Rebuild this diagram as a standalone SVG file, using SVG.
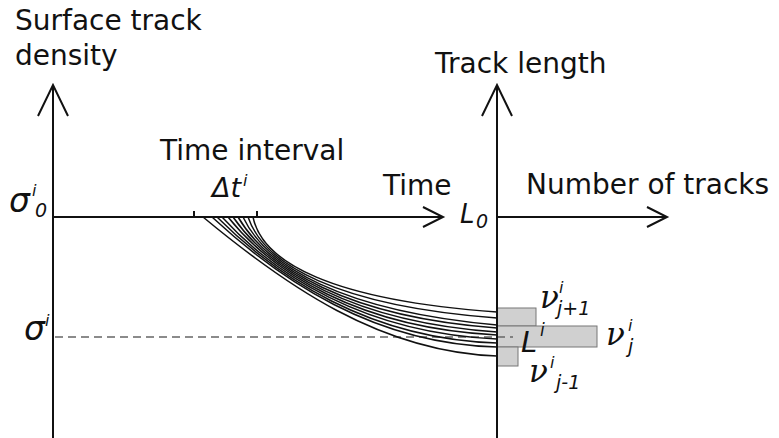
<svg xmlns="http://www.w3.org/2000/svg" width="779" height="438" viewBox="0 0 779 438">
<style>
.ax{stroke:#111;stroke-width:2;fill:none}
.ah{stroke:#111;stroke-width:2;fill:none;stroke-linejoin:miter}
.cv{stroke:#111;stroke-width:1.5;fill:none}
.t{font-family:"DejaVu Sans",sans-serif;font-size:28px;fill:#111}
.it{font-family:"DejaVu Sans",sans-serif;font-style:italic;fill:#111}
.nu{font-family:"DejaVu Serif",serif;font-style:italic;font-size:31px;fill:#111}
.bar{fill:#d0d0d0;stroke:#777;stroke-width:1}
</style>
<rect width="779" height="438" fill="#fff"/>
<g id="bars">
<rect class="bar" x="497" y="308" width="39" height="18"/>
<rect class="bar" x="497" y="326" width="100" height="21" stroke="#555"/>
<rect class="bar" x="497" y="347" width="21" height="19"/>
</g>
<g id="dashed">
<line x1="55" y1="337" x2="513" y2="337" stroke="#666" stroke-width="1.5" stroke-dasharray="8,5"/>
</g>
<g id="connectors">
<path class="cv" d="M203,217 C285,285 380,352 497,356"/>
<path class="cv" d="M212,217 C280,280 374,344 497,347"/>
<path class="cv" d="M217,217 C277,277 369,339 497,343"/>
<path class="cv" d="M222,217 C274,274 363,333 497,339"/>
<path class="cv" d="M228,217 C272,272 358,328 497,335"/>
<path class="cv" d="M233,217 C270,270 352,322 497,332"/>
<path class="cv" d="M238,217 C268,268 347,317 497,328"/>
<path class="cv" d="M243,217 C266,266 341,311 497,325"/>
<path class="cv" d="M248,217 C264,264 336,306 497,318"/>
<path class="cv" d="M253,217 C262,262 330,300 497,312"/>
</g>
<g id="axis-density">
<line class="ax" x1="53" y1="85" x2="53" y2="438"/>
<polyline class="ah" points="38,116 53,85 68,116"/>
</g>
<g id="axis-time">
<line class="ax" x1="53" y1="217" x2="442" y2="217"/>
<polyline class="ah" points="423,207 443,217 423,227"/>
<line class="ax" x1="194" y1="211" x2="194" y2="217" stroke-width="1.5"/>
<line class="ax" x1="257" y1="211" x2="257" y2="217" stroke-width="1.5"/>
</g>
<g id="axis-length">
<line class="ax" x1="497" y1="86" x2="497" y2="438"/>
<polyline class="ah" points="482,116 497,85 512,116"/>
</g>
<g id="axis-count">
<line class="ax" x1="497" y1="217" x2="666" y2="217"/>
<polyline class="ah" points="647,207 667,217 647,227"/>
</g>
<g id="labels">
<text class="t" x="15" y="30">Surface track</text>
<text class="t" x="15" y="65">density</text>
<text class="t" x="435" y="73">Track length</text>
<text class="t" x="160" y="160">Time interval</text>
<text class="t" x="383" y="195">Time</text>
<text class="t" x="526" y="194" font-size="29">Number of tracks</text>
<text class="it" x="212" y="197" font-size="27">Δt</text>
<text class="it" x="243" y="186" font-size="16">i</text>
<text class="it" x="9" y="212" font-size="33">σ</text>
<text class="it" x="32" y="196" font-size="16">i</text>
<text class="it" x="35" y="217" font-size="19">0</text>
<text class="it" x="24" y="340" font-size="33">σ</text>
<text class="it" x="45" y="326" font-size="16">i</text>
<text class="it" x="521" y="352" font-size="29">L</text>
<text class="it" x="540" y="336" font-size="17">i</text>
<text class="it" x="460" y="223" font-size="26">L</text>
<text class="it" x="476" y="228" font-size="19">0</text>
<text class="nu" x="540" y="308">ν</text>
<text class="it" x="559" y="293" font-size="16">i</text>
<text class="it" x="557" y="315" font-size="19">j+1</text>
<text class="nu" x="606" y="345">ν</text>
<text class="it" x="628" y="331" font-size="16">i</text>
<text class="it" x="628" y="353" font-size="19">j</text>
<text class="nu" x="529" y="382">ν</text>
<text class="it" x="550" y="368" font-size="16">i</text>
<text class="it" x="556" y="389" font-size="19">j-1</text>
</g>
</svg>
